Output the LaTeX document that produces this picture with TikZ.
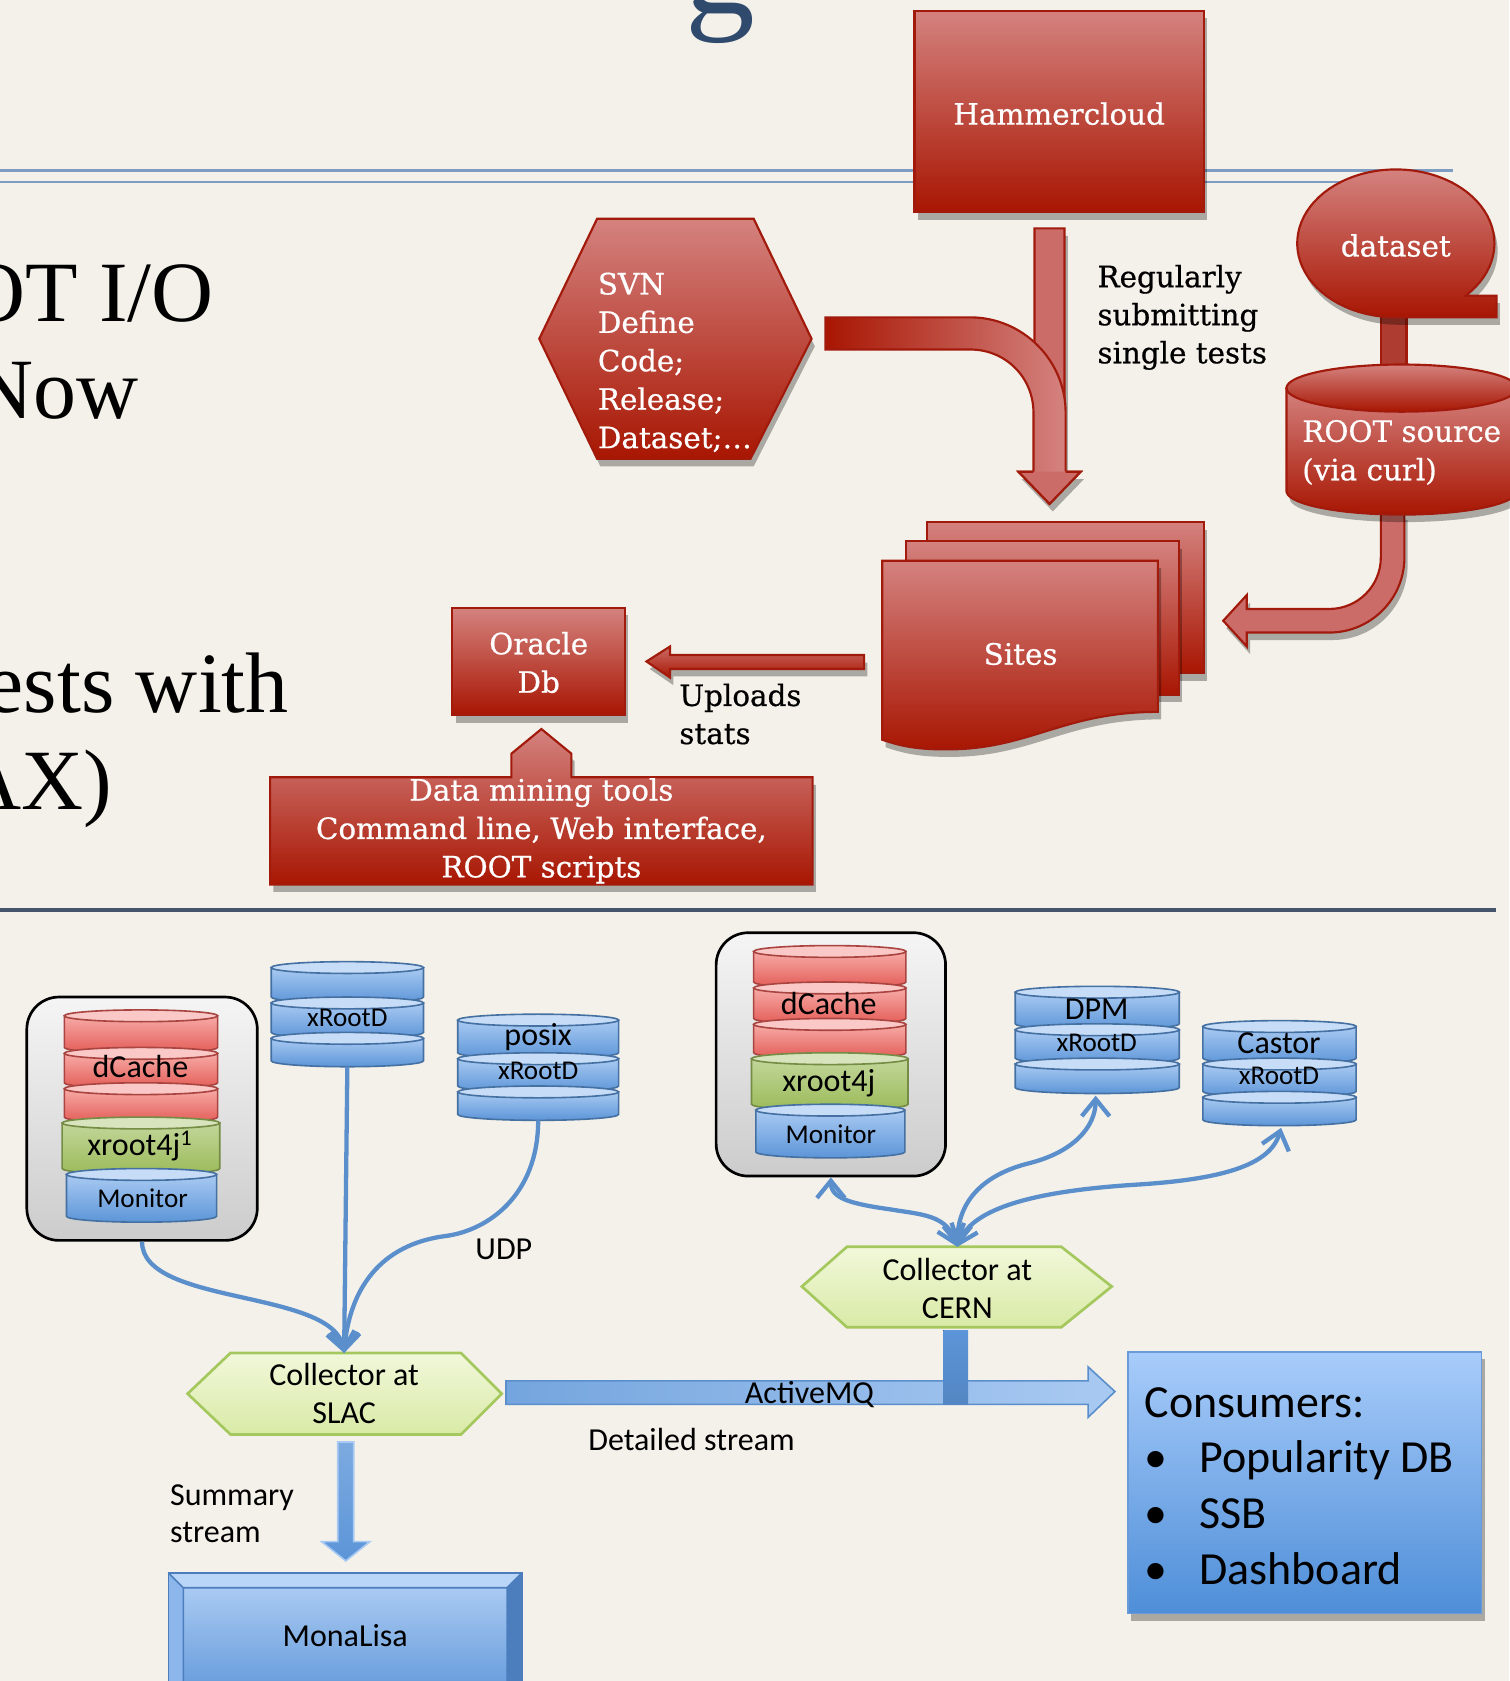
\documentclass[tikz,border=0pt]{standalone}
\usepackage{fontspec}
\newfontfamily\slabfont{DejaVu Serif}[FakeBold=0.6]
\newfontfamily\calfont{Carlito}
\newfontfamily\bookfont{Liberation Serif}
\usetikzlibrary{arrows.meta,positioning,shadows}

\definecolor{paper}{HTML}{F4F1EA}
\definecolor{redtop}{HTML}{D4827F}
\definecolor{redbot}{HTML}{A81602}
\definecolor{redline}{HTML}{A11A0C}
\definecolor{redmid}{HTML}{CB6C68}
\definecolor{rulelight}{HTML}{7F9CC3}
\definecolor{ruledark}{HTML}{46556B}
\definecolor{titleblue}{HTML}{2F4A6D}
\definecolor{linkblue}{HTML}{5B8FCB}
\definecolor{diskblue}{HTML}{5C95D8}
\definecolor{diskbluel}{HTML}{A9CAF2}
\definecolor{diskred}{HTML}{E35B56}
\definecolor{diskredl}{HTML}{F7ABA7}
\definecolor{diskgreen}{HTML}{9BBB59}
\definecolor{diskgreenl}{HTML}{C2D69A}
\definecolor{hextop}{HTML}{F1F8DA}
\definecolor{hexbot}{HTML}{D9EAA6}
\definecolor{hexline}{HTML}{A5C85E}
\definecolor{boxtop}{HTML}{A8CCFA}
\definecolor{boxbot}{HTML}{4E8ED8}
\definecolor{boxline}{HTML}{6A9BD8}
\definecolor{bevellight}{HTML}{B9D5F8}
\definecolor{bevelleft}{HTML}{8DB7EC}
\definecolor{beveldark}{HTML}{4C7EBE}

% one platter of a disk stack: x1, x2, lid y, body bottom y, colour
\newcommand{\platter}[5]{%
  \pgfmathsetmacro{\pcx}{(#1+#2)/2}
  \pgfmathsetmacro{\prx}{(#2-#1)/2}
  \pgfmathsetmacro{\pk}{0.552*\prx}
  \path[draw=#5!75!black, line width=0.15mm, top color=#5l, bottom color=#5]
    (#1,#3) -- (#1,#4) .. controls (#1,#4+3) and (\pcx-\pk,#4+5.5) .. (\pcx,#4+5.5)
    .. controls (\pcx+\pk,#4+5.5) and (#2,#4+3) .. (#2,#4) -- (#2,#3) -- cycle;
  \path[draw=#5!75!black, line width=0.15mm, fill=#5l!65!white]
    (\pcx,#3) ellipse [x radius=\prx, y radius=5.5];
}

\begin{document}
\begin{tikzpicture}[x=0.1mm, y=-0.1mm,
    redshape/.style={draw=redline, line width=0.2mm, top color=redtop, bottom color=redbot},
    shadowed/.style={drop shadow={shadow xshift=0.3mm, shadow yshift=-0.7mm, opacity=0.3, fill=black}},
    redtext/.style={text=white, font=\slabfont\fontsize{7.8}{10.2}\selectfont, align=left, inner sep=0pt},
    blacknote/.style={text=black, font=\slabfont\fontsize{7.8}{10.1}\selectfont, align=left, inner sep=0pt},
    bigtext/.style={font=\bookfont\fontsize{22.8}{26}\selectfont, inner sep=0pt},
    bluetext/.style={font=\calfont\fontsize{8.5}{10}\selectfont, align=left, inner sep=0pt},
    smalltext/.style={font=\calfont\fontsize{7.2}{9}\selectfont, inner sep=0pt},
    hostbox/.style={draw=black, line width=0.25mm, rounded corners=3mm, top color=white!96!black, bottom color=white!80!black, inner sep=0pt},
    collector/.style={draw=hexline, line width=0.25mm, top color=hextop, bottom color=hexbot},
    link/.style={draw=linkblue, line width=0.4mm},
    linktip/.style={-{Straight Barb[length=1.6mm, width=2.6mm]}},
    bothtips/.style={{Straight Barb[length=1.6mm, width=2.6mm]}-{Straight Barb[length=1.6mm, width=2.6mm]}},
    bluebox/.style={draw=boxline, line width=0.15mm, top color=boxtop, bottom color=boxbot}
]

% Fondo
\fill[paper] (0,0) rectangle (1408,1568);
\useasboundingbox (0,0) rectangle (1408,1568);

% Lineas de la diapositiva
\draw[rulelight, line width=0.22mm] (0,159) -- (1355,159);
\draw[rulelight, line width=0.22mm] (0,170) -- (1355,170);
\draw[ruledark, line width=0.35mm] (0,849) -- (1395,849);

% Texto de fondo
\node[font=\bookfont\fontsize{37}{40}\selectfont, text=titleblue, anchor=base, inner sep=0pt] (titleg) at (672,13) {g};
\node[bigtext, anchor=base east] (rootio) at (200,300) {OT I/O};
\node[bigtext, anchor=base east] (now) at (130,390) {Now};
\node[bigtext, anchor=base east] (testswith) at (270,665) {ests with};
\node[bigtext, anchor=base east] (ax) at (105,755) {AX)};

% Hammercloud
\node[redshape, shadowed, minimum width=27mm, minimum height=18.8mm] (hammer) at (988,104) {};
\node[redtext] (hammertext) at (988,106) {Hammercloud};

% Flecha Hammercloud -> Sites
\path[draw=redline, line width=0.2mm, fill=redmid, shadowed]
  (965,213) -- (993,213) -- (993,440) -- (1008,440) -- (979,470) -- (950,440) -- (965,440) -- cycle;

% SVN
\path[redshape, shadowed] (557,204) -- (703,204) -- (757,316) -- (700,428) -- (557,428) -- (503,316) -- cycle;
\node[redtext, anchor=west] (svn) at (557,338) {SVN\\Define\\Code;\\Release;\\Dataset;\ldots};

% Flecha curva SVN -> Sites
\fill[left color=redbot, right color=redtop]
  (770,296) -- (905,296) .. controls (954,296) and (994,336) .. (994,385) -- (994,441)
  -- (964,441) -- (964,385) .. controls (964,352) and (938,326) .. (905,326) -- (770,326) -- cycle;
\draw[redline, line width=0.2mm]
  (994,440) -- (994,385) .. controls (994,336) and (954,296) .. (905,296) -- (770,296) -- (770,326)
  -- (905,326) .. controls (938,326) and (964,352) .. (964,385) -- (964,440);
\fill[redmid] (950,440) -- (979,470) -- (1008,440) -- cycle;
\draw[redline, line width=0.2mm] (964,440) -- (950,440) -- (979,470) -- (1008,440) -- (994,440);

\node[blacknote, anchor=west] (regular) at (1023,296) {Regularly\\submitting\\single tests};

% dataset y ROOT source
\fill[redline!85!white, draw=redline, line width=0.2mm] (1288,290) rectangle (1312,345);
\path[draw=redline, line width=0.2mm, fill=redmid, shadowed]
  (1310,478) -- (1310,520) .. controls (1310,558.6) and (1278.6,590) .. (1240,590) -- (1163,590)
  -- (1163,603) -- (1141,579) -- (1163,555) -- (1163,568) -- (1240,568)
  .. controls (1266.5,568) and (1288,546.5) .. (1288,520) -- (1288,478) -- cycle;
\path[redshape, shadowed] (1200,362) -- (1200,458)
  -- plot[domain=180:0, samples=40] ({1307.5+107.5*cos(\x)}, {458+22*sin(\x)}) -- (1415,362) -- cycle;
\path[redshape] (1307.5,362) ellipse [x radius=107.5, y radius=22];
\node[redtext, anchor=west] (rootsrc) at (1214,422) {ROOT source\\(via curl)};

\path[redshape, shadowed] plot[domain=90:405, samples=72] ({1302+92*cos(\x)}, {227+69*sin(\x)})
  -- (1396,275.8) -- (1396,296) -- cycle;
\node[redtext] (dataset) at (1302,229) {dataset};

% Sites
\path[redshape, shadowed] (865,487) rectangle (1123,628);
\path[redshape, shadowed] (845,505) rectangle (1100,648);
\path[redshape, shadowed] (823,523) -- (1080,523) -- (1080,664)
  .. controls (990,664) and (960,700) .. (880,699) .. controls (850,699) and (835,694) .. (823,690) -- cycle;
\node[redtext] (sites) at (952,610) {Sites};

% Sites -> Oracle Db
\path[draw=redline, line width=0.2mm, top color=redtop!80!redbot, bottom color=redbot, shadowed]
  (806,611) -- (625,611) -- (625,603) -- (603,617) -- (625,632) -- (625,624) -- (806,624) -- cycle;
\node[blacknote, anchor=west] (uploads) at (633,666) {Uploads\\stats};

% Oracle Db
\node[redshape, shadowed, minimum width=16.1mm, minimum height=10mm] (oracle) at (502.5,617) {};
\node[redtext, align=center] (oracletext) at (502.5,618) {Oracle\\Db};

% Data mining
\path[redshape, shadowed] (252,725) -- (477,725) -- (477,703) -- (505,680) -- (533,703) -- (533,725)
  -- (758,725) -- (758,825) -- (252,825) -- cycle;
\node[redtext, align=center] (mining) at (505,775) {Data mining tools\\Command line, Web interface,\\ROOT scripts};

% Sitio SLAC
\node[hostbox, minimum width=21.5mm, minimum height=22.7mm] (slachost) at (132.5,1043.5) {};
\platter{60}{203}{947.5}{977}{diskred}
\platter{60}{203}{982.5}{1010}{diskred}
\platter{60}{203}{1015.5}{1042}{diskred}
\platter{58}{205}{1047.5}{1090}{diskgreen}
\platter{62}{202}{1095.5}{1134.5}{diskblue}
\node[bluetext] (dcachel) at (131,995) {dCache};
\node[bluetext] (xroot4jl) at (131,1069) {xroot4j\textsuperscript{1}};
\node[smalltext] (monitorl) at (133,1118) {Monitor};

\platter{253}{395}{902.5}{930}{diskblue}
\platter{253}{395}{935.5}{963}{diskblue}
\platter{253}{395}{968.5}{989.5}{diskblue}
\node[smalltext] (xrdslac) at (324,949) {xRootD};
\coordinate (xrdslac-s) at (324,995);

\platter{427}{577}{951.5}{982}{diskblue}
\platter{427}{577}{987.5}{1013}{diskblue}
\platter{427}{577}{1018.5}{1039.5}{diskblue}
\node[bluetext] (posix) at (502,967) {posix};
\node[smalltext] (xrdposix) at (502,999) {xRootD};
\coordinate (posix-s) at (502,1045);

% Sitio CERN
\node[hostbox, minimum width=21.4mm, minimum height=22.7mm] (cernhost) at (775,983.5) {};
\platter{703}{845}{887.5}{916}{diskred}
\platter{703}{845}{921.5}{950}{diskred}
\platter{703}{845}{955.5}{982}{diskred}
\platter{701}{847}{987.5}{1030}{diskgreen}
\platter{705}{844}{1035.5}{1074.5}{diskblue}
\node[bluetext] (dcacher) at (773,936) {dCache};
\node[bluetext] (xroot4jr) at (773,1010) {xroot4j};
\node[smalltext] (monitorr) at (775,1058) {Monitor};

\platter{947}{1100}{925.5}{955}{diskblue}
\platter{947}{1100}{960.5}{987}{diskblue}
\platter{947}{1100}{992.5}{1014.5}{diskblue}
\node[bluetext] (dpm) at (1023,941) {DPM};
\node[smalltext] (xrddpm) at (1023,973) {xRootD};
\coordinate (dpm-s) at (1022,1022);

\platter{1122}{1265}{957.5}{987}{diskblue}
\platter{1122}{1265}{992.5}{1018}{diskblue}
\platter{1122}{1265}{1023.5}{1044.5}{diskblue}
\node[bluetext] (castor) at (1193,973) {Castor};
\node[smalltext] (xrdcastor) at (1193,1004) {xRootD};
\coordinate (castor-s) at (1195,1052);

% Colectores
\path[collector] (175,1300) -- (215,1262) -- (430,1262) -- (468,1300) -- (430,1338) -- (215,1338) -- cycle;
\node[bluetext, align=center] (slac) at (321,1300) {Collector at\\SLAC};
\coordinate (slac-n) at (321,1262);

\path[collector] (748,1200) -- (790,1163) -- (990,1163) -- (1037,1200) -- (990,1238) -- (790,1238) -- cycle;
\node[bluetext, align=center] (cern) at (893,1202) {Collector at\\CERN};
\coordinate (cern-n) at (893,1163);

% Conexiones UDP
\coordinate (udp-bend) at (415,1153);
\draw[link, linktip] (slachost.south) .. controls +(0,60) and +(-10,-60) .. (slac-n);
\draw[link, linktip] (xrdslac-s) -- (slac-n);
\draw[link, linktip] (posix-s) .. controls +(0,70) and +(40,-5) .. (udp-bend)
  .. controls +(-60,8) and +(5,-60) .. (slac-n);
\node[bluetext] (udp) at (470,1165) {UDP};

\coordinate (cernbend-l) at (830,1128);
\coordinate (cernbend-d) at (960,1085);
\coordinate (cernbend-c) at (1060,1105);
\draw[link, bothtips] (cern-n) .. controls +(-10,-30) and +(30,5) .. (cernbend-l)
  .. controls +(-35,-5) and +(0,20) .. (cernhost.south);
\draw[link, bothtips] (cern-n) .. controls +(0,-45) and +(-40,10) .. (cernbend-d)
  .. controls +(40,-10) and +(0,30) .. (dpm-s);
\draw[link, bothtips] (cern-n) .. controls +(15,-40) and +(-80,5) .. (cernbend-c)
  .. controls +(80,-5) and +(-10,35) .. (castor-s);

% ActiveMQ
\path[draw=linkblue, line width=0.15mm, left color=diskblue!85!white, right color=diskbluel]
  (472,1288) -- (1015,1288) -- (1015,1275) -- (1040,1298) -- (1015,1322) -- (1015,1310) -- (472,1310) -- cycle;
\fill[top color=diskblue, bottom color=diskblue!90!black] (880,1241) rectangle (903,1310);
\node[bluetext] (activemq) at (755,1301) {ActiveMQ};
\node[bluetext] (detailed) at (645,1343) {Detailed stream};

% Consumidores
\node[bluebox, shadowed, minimum width=33mm, minimum height=24.4mm] (consumers) at (1217,1383) {};
\node[bluetext, anchor=west, font=\calfont\fontsize{12.2}{14.8}\selectfont] (consumerlist) at (1067,1386)
  {Consumers:\\\makebox[5.1mm][l]{\textbullet}Popularity DB\\\makebox[5.1mm][l]{\textbullet}SSB\\\makebox[5.1mm][l]{\textbullet}Dashboard};

% Resumen -> MonaLisa
\path[draw=diskbluel, line width=0.15mm, top color=diskblue!80!white, bottom color=diskblue]
  (315,1345) -- (330,1345) -- (330,1438) -- (345,1438) -- (322.5,1456) -- (300,1438) -- (315,1438) -- cycle;
\node[bluetext, anchor=west] (summary) at (158,1412) {Summary\\stream};

% MonaLisa
\fill[top color=diskbluel, bottom color=diskblue] (171,1481) rectangle (473,1590);
\fill[bevellight] (157,1467) -- (487,1467) -- (473,1481) -- (171,1481) -- cycle;
\fill[bevelleft] (157,1467) -- (171,1481) -- (171,1590) -- (157,1590) -- cycle;
\fill[beveldark] (487,1467) -- (487,1590) -- (473,1590) -- (473,1481) -- cycle;
\draw[beveldark, line width=0.15mm] (157,1590) -- (157,1467) -- (487,1467) -- (487,1590);
\draw[beveldark, line width=0.15mm] (157,1467) -- (171,1481) -- (473,1481) -- (487,1467) (171,1481) -- (171,1590) (473,1481) -- (473,1590);
\node[bluetext] (monalisa) at (322,1526) {MonaLisa};

\end{tikzpicture}
\end{document}
